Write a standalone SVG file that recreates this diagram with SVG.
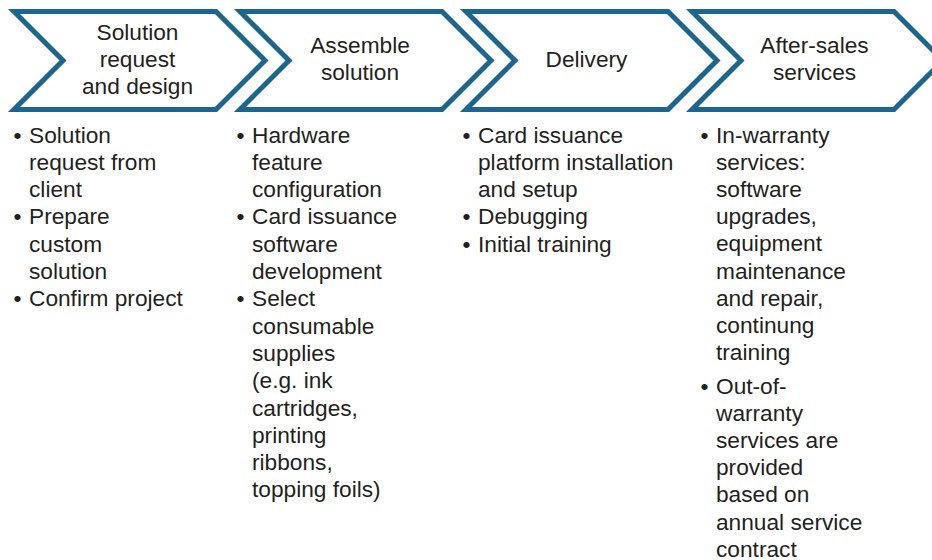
<svg xmlns="http://www.w3.org/2000/svg" xmlns:xlink="http://www.w3.org/1999/xlink" width="932" height="560" viewBox="0 0 932 560">
  <style>
    .chev { fill: #ffffff; stroke: #1a6690; stroke-width: 5; stroke-linejoin: miter; stroke-miterlimit: 10; }
    .title { font-family: "Liberation Sans", Arial, sans-serif; font-size: 22.7px; fill: #231f20; text-anchor: middle; }
    .body { font-family: "Liberation Sans", Arial, sans-serif; font-size: 22.7px; fill: #231f20; }
  </style>
  <defs>
    <!-- one process step: notched left edge, pointed right edge -->
    <polygon id="chevron" points="14,11.5 216,11.5 265,60.5 216,109.5 14,109.5 63,60.5"/>
  </defs>
  <rect width="932" height="560" fill="#ffffff"/>

  <g id="step-design">
    <use xlink:href="#chevron" class="chev"/>
    <text class="title"><tspan x="137.5" y="40">Solution</tspan><tspan x="137.5" y="67">request</tspan><tspan x="137.5" y="94">and design</tspan></text>
    <text class="body"><tspan x="13.5" y="142.5">•</tspan></text>
    <text class="body"><tspan x="29" y="142.5">Solution</tspan><tspan x="29" dy="27.3">request from</tspan><tspan x="29" dy="27.3">client</tspan></text>
    <text class="body"><tspan x="13.5" y="224.4">•</tspan></text>
    <text class="body"><tspan x="29" y="224.4">Prepare</tspan><tspan x="29" dy="27.3">custom</tspan><tspan x="29" dy="27.3">solution</tspan></text>
    <text class="body"><tspan x="13.5" y="306.3">•</tspan></text>
    <text class="body"><tspan x="29" y="306.3">Confirm project</tspan></text>
  </g>

  <g id="step-assemble">
    <use xlink:href="#chevron" class="chev" transform="translate(226,0)"/>
    <text class="title"><tspan x="360" y="53">Assemble</tspan><tspan x="360" y="80">solution</tspan></text>
    <text class="body"><tspan x="236.5" y="142.5">•</tspan></text>
    <text class="body"><tspan x="252" y="142.5">Hardware</tspan><tspan x="252" dy="27.3">feature</tspan><tspan x="252" dy="27.3">configuration</tspan></text>
    <text class="body"><tspan x="236.5" y="224.4">•</tspan></text>
    <text class="body"><tspan x="252" y="224.4">Card issuance</tspan><tspan x="252" dy="27.3">software</tspan><tspan x="252" dy="27.3">development</tspan></text>
    <text class="body"><tspan x="236.5" y="306.3">•</tspan></text>
    <text class="body"><tspan x="252" y="306.3">Select</tspan><tspan x="252" dy="27.3">consumable</tspan><tspan x="252" dy="27.3">supplies</tspan><tspan x="252" dy="27.3">(e.g. ink</tspan><tspan x="252" dy="27.3">cartridges,</tspan><tspan x="252" dy="27.3">printing</tspan><tspan x="252" dy="27.3">ribbons,</tspan><tspan x="252" dy="27.3">topping foils)</tspan></text>
  </g>

  <g id="step-delivery">
    <use xlink:href="#chevron" class="chev" transform="translate(452,0)"/>
    <text class="title"><tspan x="586.5" y="67">Delivery</tspan></text>
    <text class="body"><tspan x="462.5" y="142.5">•</tspan></text>
    <text class="body"><tspan x="478" y="142.5">Card issuance</tspan><tspan x="478" dy="27.3">platform installation</tspan><tspan x="478" dy="27.3">and setup</tspan></text>
    <text class="body"><tspan x="462.5" y="224.4">•</tspan></text>
    <text class="body"><tspan x="478" y="224.4">Debugging</tspan></text>
    <text class="body"><tspan x="462.5" y="251.7">•</tspan></text>
    <text class="body"><tspan x="478" y="251.7">Initial training</tspan></text>
  </g>

  <g id="step-aftersales">
    <use xlink:href="#chevron" class="chev" transform="translate(678,0)"/>
    <text class="title"><tspan x="814.5" y="53">After-sales</tspan><tspan x="814.5" y="80">services</tspan></text>
    <text class="body"><tspan x="700.5" y="142.5">•</tspan></text>
    <text class="body"><tspan x="716" y="142.5">In-warranty</tspan><tspan x="716" dy="27.2">services:</tspan><tspan x="716" dy="27.2">software</tspan><tspan x="716" dy="27.2">upgrades,</tspan><tspan x="716" dy="27.2">equipment</tspan><tspan x="716" dy="27.2">maintenance</tspan><tspan x="716" dy="27.2">and repair,</tspan><tspan x="716" dy="27.2">continung</tspan><tspan x="716" dy="27.2">training</tspan></text>
    <text class="body"><tspan x="700.5" y="394">•</tspan></text>
    <text class="body"><tspan x="716" y="394">Out-of-</tspan><tspan x="716" dy="27.1">warranty</tspan><tspan x="716" dy="27.1">services are</tspan><tspan x="716" dy="27.1">provided</tspan><tspan x="716" dy="27.1">based on</tspan><tspan x="716" dy="27.1">annual service</tspan><tspan x="716" dy="27.1">contract</tspan></text>
  </g>
</svg>
